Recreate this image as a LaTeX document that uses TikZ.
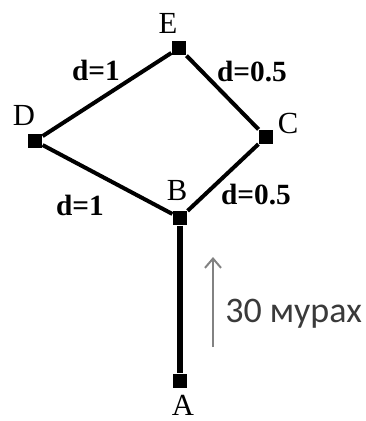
\documentclass[tikz,border=0pt]{standalone}
\usepackage{fontspec}
\setmainfont{Liberation Serif}
\newfontfamily\labelsans{Carlito}
\usetikzlibrary{arrows.meta}
\definecolor{ArrowGray}{HTML}{828282}
\definecolor{NoteText}{HTML}{3A3A3A}
\tikzset{
  vert/.style={fill=black,draw=none,minimum size=11pt,inner sep=0pt},
  vname/.style={font=\fontsize{23}{23}\selectfont,inner sep=0pt},
  dlabel/.style={font=\fontsize{22}{22}\selectfont\bfseries,inner sep=0pt},
  road/.style={line width=3pt},
}
\begin{document}
\begin{tikzpicture}[x=0.75pt,y=-0.75pt,>=Latex]
  \useasboundingbox (0,0) rectangle (365,421);
  \node[vert] (E) at (179,48) {};
  \node[vert] (D) at (35,141) {};
  \node[vert] (C) at (266,137) {};
  \node[vert] (B) at (180,218) {};
  \node[vert] (A) at (180,381) {};
  \draw[road] (D) -- (E);
  \draw[road] (E) -- (C);
  \draw[road] (C) -- (B);
  \draw[road] (D) -- (B);
  \draw[line width=4.6pt] (B) -- (A);
  \node[vname] (lE) at (168,23) {E};
  \node[vname] (lD) at (24,115) {D};
  \node[vname] (lC) at (288,123) {C};
  \node[vname] (lB) at (177,191) {B};
  \node[vname] (lA) at (183,405) {A};
  \node[dlabel] (dDE) at (96,70) {d=1};
  \node[dlabel] (dEC) at (252,72) {d=0.5};
  \node[dlabel] (dDB) at (80,205) {d=1};
  \node[dlabel] (dCB) at (256,195) {d=0.5};
  \coordinate (flowlo) at (213,347);
  \coordinate (flowhi) at (213,257);
  \draw[ArrowGray,line width=1.5pt,-{Straight Barb[length=7pt,width=12pt]}] (flowlo) -- (flowhi);
  \node[font=\labelsans\fontsize{27}{27}\selectfont,text=NoteText,anchor=base west,inner sep=0pt] (note) at (225,322) {30 мурах};
\end{tikzpicture}
\end{document}
